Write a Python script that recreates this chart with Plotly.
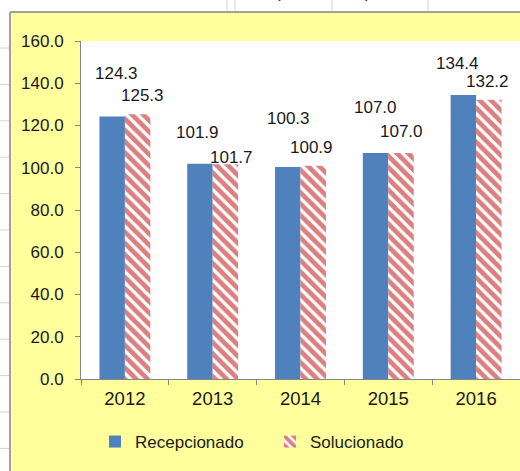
import plotly.graph_objects as go

# data
years = ['2012', '2013', '2014', '2015', '2016']
recepcionado = [124.3, 101.9, 100.3, 107.0, 134.4]
solucionado = [125.3, 101.7, 100.9, 107.0, 132.2]
y_ticks = [0, 20, 40, 60, 80, 100, 120, 140, 160]

# hand-placed label offsets (px) like in the original sheet
rec_xshift = [-8, -15, -12, -13, -19]
rec_yshift = [43, 31, 49, 45, 32]
sol_xshift = [18, 19, 11, 13, 11]
sol_yshift = [19, 7, 18, 21, 18]

W, H = 520, 471
L, R, T, B = 81, 0, 41, 92
pw, ph = W - L - R, H - T - B


def px(x, y):
    # pixel position -> paper coords
    return (x - L) / pw, (H - B - y) / ph


fig = go.Figure()
fig.add_trace(go.Bar(x=years, y=recepcionado, name='Recepcionado',
                     marker=dict(color='#4F81BD', line=dict(width=0))))
fig.add_trace(go.Bar(x=years, y=solucionado, name='Solucionado',
                     marker=dict(color='white', line=dict(width=0),
                                 pattern=dict(shape='\\', fgcolor='#B80000', bgcolor='white',
                                              size=8, solidity=0.6))))

font = 'Liberation Sans, Arial, sans-serif'
for i, yr in enumerate(years):
    # category index, so the year strings aren't read as numbers
    fig.add_annotation(x=i, y=recepcionado[i], text=f'{recepcionado[i]:.1f}', showarrow=False,
                       xshift=rec_xshift[i], yshift=rec_yshift[i], yanchor='middle',
                       font=dict(size=17, color='#1a1a1a', family=font))
    fig.add_annotation(x=i, y=solucionado[i], text=f'{solucionado[i]:.1f}', showarrow=False,
                       xshift=sol_xshift[i], yshift=sol_yshift[i], yanchor='middle',
                       font=dict(size=17, color='#1a1a1a', family=font))

# spreadsheet bits around the chart object
shapes = []
x0, y0 = px(0, 0)
x1, y1 = px(10, H)
shapes.append(dict(type='rect', xref='paper', yref='paper', x0=x0, y0=y1, x1=x1, y1=y0,
                   fillcolor='white', line=dict(width=0)))
xa, ya = px(0, 12)
xb, yb = px(W, 0)
shapes.append(dict(type='rect', xref='paper', yref='paper', x0=xa, y0=ya, x1=xb, y1=yb,
                   fillcolor='white', line=dict(width=0)))
for k in range(12):
    gy = 48 + 36.4 * k
    a, b = px(0, gy)
    c, d = px(10, gy)
    shapes.append(dict(type='line', xref='paper', yref='paper', x0=a, y0=b, x1=c, y1=d,
                       line=dict(color='#D4D4D4', width=1)))
for gx in [227, 235, 332, 428]:
    a, b = px(gx, 0)
    c, d = px(gx, 12)
    shapes.append(dict(type='line', xref='paper', yref='paper', x0=a, y0=b, x1=c, y1=d,
                       line=dict(color='#D4D4D4', width=1)))
# chart border
a, b = px(10, 12)
c, d = px(10, H)
shapes.append(dict(type='line', xref='paper', yref='paper', x0=a, y0=b, x1=c, y1=d,
                   line=dict(color='#A0A0A0', width=2)))
c, d = px(W, 12)
shapes.append(dict(type='line', xref='paper', yref='paper', x0=a, y0=b, x1=c, y1=d,
                   line=dict(color='#A0A0A0', width=2)))

# cut-off title fragments above the chart
for tx, t in [(278, '('), (368, ')')]:
    a, b = px(tx, -8)
    fig.add_annotation(xref='paper', yref='paper', x=a, y=b, text=t, showarrow=False,
                       yanchor='middle', font=dict(size=17, color='#1a1a1a', family=font))

lx, ly = px(95, 442)
fig.update_layout(
    width=W, height=H,
    margin=dict(l=L, r=R, t=T, b=B),
    paper_bgcolor='#FFFF9C', plot_bgcolor='white',
    barmode='group', bargap=0.42, bargroupgap=0,
    font=dict(family=font, color='#1a1a1a'),
    shapes=shapes,
    showlegend=True,
    legend=dict(orientation='h', x=lx, y=ly, xanchor='left', yanchor='middle',
                font=dict(size=17), bgcolor='rgba(0,0,0,0)', itemwidth=30,
                entrywidth=130),
)
fig.update_xaxes(type='category', range=[-0.5, 4.5], showline=True, linecolor='#868686',
                 linewidth=1, ticks='outside', tickson='boundaries', ticklen=5,
                 tickcolor='#868686', tickfont=dict(size=18.5), showgrid=False,
                 automargin=False, tickangle=0, ticklabelstandoff=3)
fig.update_yaxes(range=[0, 160], tickvals=y_ticks, tickformat='.1f', showline=True,
                 linecolor='#868686', linewidth=1, ticks='outside', ticklen=5,
                 tickcolor='#868686', tickfont=dict(size=17), showgrid=False, zeroline=False,
                 ticklabelstandoff=8, automargin=False)

# drop the page's default body margin so the figure sits at the window corner
fig.write_html('out.html', config={'displayModeBar': False},
               post_script="document.body.style.margin='0';")
